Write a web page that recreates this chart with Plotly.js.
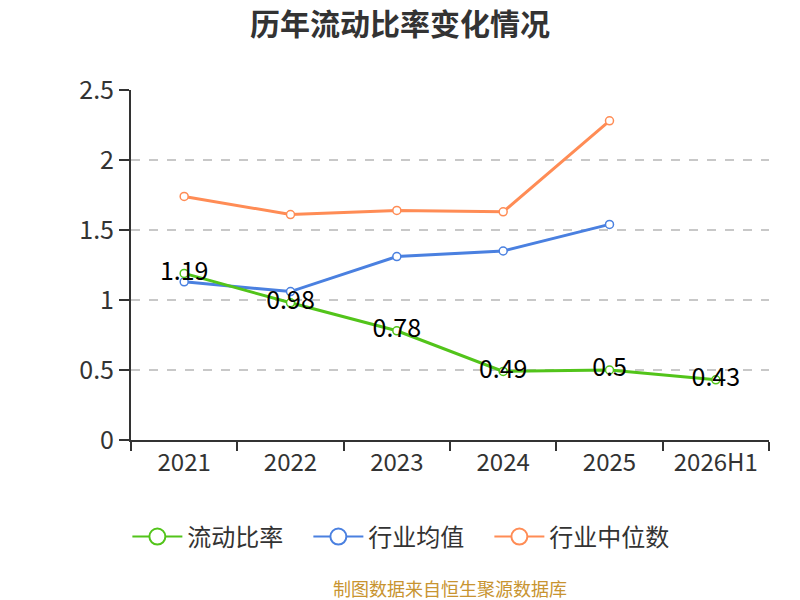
<!DOCTYPE html>
<html>
<head>
<meta charset="utf-8">
<script src="https://cdn.plot.ly/plotly-3.0.1.min.js"></script>
<style>html,body{margin:0;padding:0;background:#fff;}#chart{width:800px;height:600px;}</style>
</head>
<body>
<div id="chart"></div>
<script>
const categories = ["2021", "2022", "2023", "2024", "2025", "2026H1"];
const currentRatio = [1.19, 0.98, 0.78, 0.49, 0.5, 0.43];
const industryMean = [1.13, 1.06, 1.31, 1.35, 1.54, null];
const industryMedian = [1.74, 1.61, 1.64, 1.63, 2.28, null];
const seriesNames = ["流动比率", "行业均值", "行业中位数"];
const colors = ["#52c41a", "#4a80e0", "#ff8c55"];

const font = "'Noto Sans CJK SC', 'Noto Sans', sans-serif";
const legendPad = "\u2002\u2004";

function mk(name, y, color, withText) {
  const t = {
    type: "scatter", mode: withText ? "lines+markers+text" : "lines+markers",
    name: name, x: categories, y: y, showlegend: false,
    line: {color: color, width: 3},
    marker: {size: 8, color: "#fff", line: {color: color, width: 1.5}},
    cliponaxis: false,
    hoverinfo: "x+y"
  };
  if (withText) {
    t.text = y.map(v => v == null ? "" : String(v));
    t.textposition = "middle center";
    t.textfont = {family: font, size: 25, color: "#000"};
  }
  return t;
}

function legendItem(name, color, pad) {
  return {
    type: "scatter", mode: "lines+markers", name: name + pad,
    x: [categories[0]], y: [null], showlegend: true, hoverinfo: "skip",
    line: {color: color, width: 2},
    marker: {size: 16, color: "#fff", line: {color: color, width: 2}}
  };
}

const data = [
  mk(seriesNames[2], industryMedian, colors[2], false),
  mk(seriesNames[1], industryMean, colors[1], false),
  mk(seriesNames[0], currentRatio, colors[0], true),
  legendItem(seriesNames[0], colors[0], legendPad),
  legendItem(seriesNames[1], colors[1], legendPad),
  legendItem(seriesNames[2], colors[2], "")
];

const layout = {
  width: 800, height: 600,
  margin: {l: 131, r: 31, t: 90, b: 160},
  paper_bgcolor: "#fff", plot_bgcolor: "#fff",
  font: {family: font, color: "#333"},
  title: {text: "<b>历年流动比率变化情况</b>", x: 0.5, xanchor: "center", y: 0.96, yanchor: "middle",
          font: {family: font, size: 30, color: "#333"}},
  showlegend: true,
  legend: {orientation: "h", x: 0.423, xanchor: "center", y: -0.277, yanchor: "middle",
           font: {family: font, size: 24, color: "#333"}, itemwidth: 50, tracegroupgap: 0},
  xaxis: {
    type: "category", range: [-0.5, 5.5], fixedrange: true,
    showline: true, linecolor: "#333", linewidth: 2,
    ticks: "outside", tickson: "boundaries", ticklen: 9, tickwidth: 2, tickcolor: "#333",
    showgrid: false, zeroline: false,
    tickfont: {family: font, size: 24, color: "#333"}
  },
  yaxis: {
    range: [0, 2.5], dtick: 0.5, fixedrange: true,
    showline: true, linecolor: "#333", linewidth: 2,
    ticks: "outside", ticklen: 10, tickwidth: 2, tickcolor: "#333",
    showgrid: true, gridcolor: "#c8c8c8", griddash: "dash", gridwidth: 1.5,
    zeroline: false,
    tickfont: {family: font, size: 25, color: "#333"}
  },
  annotations: [{
    text: "制图数据来自恒生聚源数据库", xref: "paper", yref: "paper", x: 0.5, y: -0.423,
    xanchor: "center", yanchor: "middle", showarrow: false,
    font: {family: font, size: 18, color: "#c89430"}
  }]
};

Plotly.newPlot("chart", data, layout, {displayModeBar: false, staticPlot: true});
</script>
</body>
</html>
